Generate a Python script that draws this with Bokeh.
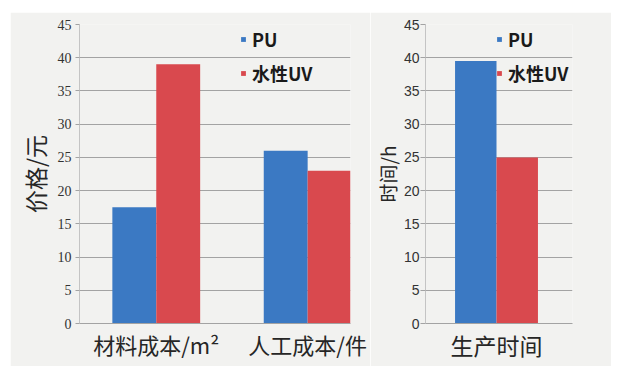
from bokeh.plotting import figure
from bokeh.layouts import row
from bokeh.models import Range1d, FixedTicker, Legend, LegendItem
from bokeh.embed import file_html
from bokeh.resources import INLINE
import numpy as np

# ---- data ----
cost_categories = ["材料成本/m²", "人工成本/件"]
cost_pu = [17.5, 26]
cost_uv = [39, 23]

time_categories = ["生产时间"]
time_pu = [39.5]
time_uv = [25]

series_names = ["PU", "水性UV"]
y_ticks = [0, 5, 10, 15, 20, 25, 30, 35, 40, 45]

BLUE = "#3b79c3"
RED = "#d9494e"
BG = "#f2f2f0"
GRID = "#a3a3a3"
CJK = "Noto Sans CJK SC"


def make_fig(width, margin, min_left, min_right, x_range, categories, pu, uv,
             bar_w, ylabel, tick_font, tick_out, tick_standoff, label_standoff,
             legend_x, xlabel_size, ylabel_size):
    p = figure(width=width, height=354, output_backend="svg", toolbar_location=None,
               x_range=x_range, y_range=Range1d(0, 45),
               min_border_left=min_left, min_border_right=min_right,
               min_border_top=12, min_border_bottom=43, margin=margin)
    p.background_fill_color = BG
    p.border_fill_color = BG
    p.outline_line_color = None
    idx = np.arange(len(categories))
    r1 = p.vbar(x=idx - bar_w / 2, top=pu, width=bar_w, color=BLUE, line_color=None)
    r2 = p.vbar(x=idx + bar_w / 2, top=uv, width=bar_w, color=RED, line_color=None)

    # x axis
    p.xaxis.ticker = FixedTicker(ticks=list(idx))
    p.xaxis.major_label_overrides = {int(i): c for i, c in zip(idx, categories)}
    p.xaxis.major_tick_out = 0
    p.xaxis.major_tick_in = 0
    p.xaxis.minor_tick_line_color = None
    p.xaxis.major_label_standoff = 4
    p.xaxis.major_label_text_font = CJK
    p.xaxis.major_label_text_font_size = xlabel_size
    p.xaxis.major_label_text_color = "#262626"
    p.xaxis.axis_line_color = GRID
    p.xgrid.grid_line_color = None

    # y axis
    p.yaxis.ticker = FixedTicker(ticks=y_ticks)
    p.yaxis.minor_tick_line_color = None
    p.yaxis.major_tick_out = tick_out
    p.yaxis.major_tick_in = 0
    p.yaxis.major_tick_line_color = GRID
    p.yaxis.axis_line_color = "#c4c4c4"
    p.yaxis.major_label_standoff = tick_standoff
    p.yaxis.major_label_text_font = tick_font
    p.yaxis.major_label_text_font_size = "14px"
    p.yaxis.major_label_text_color = "#333333"
    p.yaxis.axis_label = ylabel
    p.yaxis.axis_label_text_font = CJK
    p.yaxis.axis_label_text_font_size = ylabel_size
    p.yaxis.axis_label_text_font_style = "normal"
    p.yaxis.axis_label_text_color = "#262626"
    p.yaxis.axis_label_standoff = label_standoff
    p.ygrid.grid_line_color = GRID
    p.ygrid.grid_line_width = 1

    legend = Legend(items=[LegendItem(label=series_names[0], renderers=[r1]),
                           LegendItem(label=series_names[1], renderers=[r2])],
                    location=(legend_x, 237), orientation="vertical",
                    glyph_width=6, glyph_height=6, label_standoff=6,
                    label_height=20, spacing=8, padding=0, margin=0,
                    background_fill_alpha=0, border_line_color=None,
                    label_text_font=CJK, label_text_font_size="18px",
                    label_text_font_style="bold", label_text_color="#1a1a1a")
    p.add_layout(legend, "center")
    return p


p1 = make_fig(360, (12, 0, 8, 10), 69, 20, Range1d(-0.507, 1.283), cost_categories,
              cost_pu, cost_uv, 0.29, "价格/元", "Liberation Serif", 4, 4, 3, 161,
              "22px", "23px")
p2 = make_fig(241, (12, 0, 8, 0), 53, 39, Range1d(-0.483, 0.517), time_categories,
              time_pu, time_uv, 0.282, "时间/h", "Liberation Sans", 5, 1, 0, 71,
              "23px", "19px")

layout = row(p1, p2, spacing=0)
open("out.html", "w").write(file_html(layout, INLINE))
